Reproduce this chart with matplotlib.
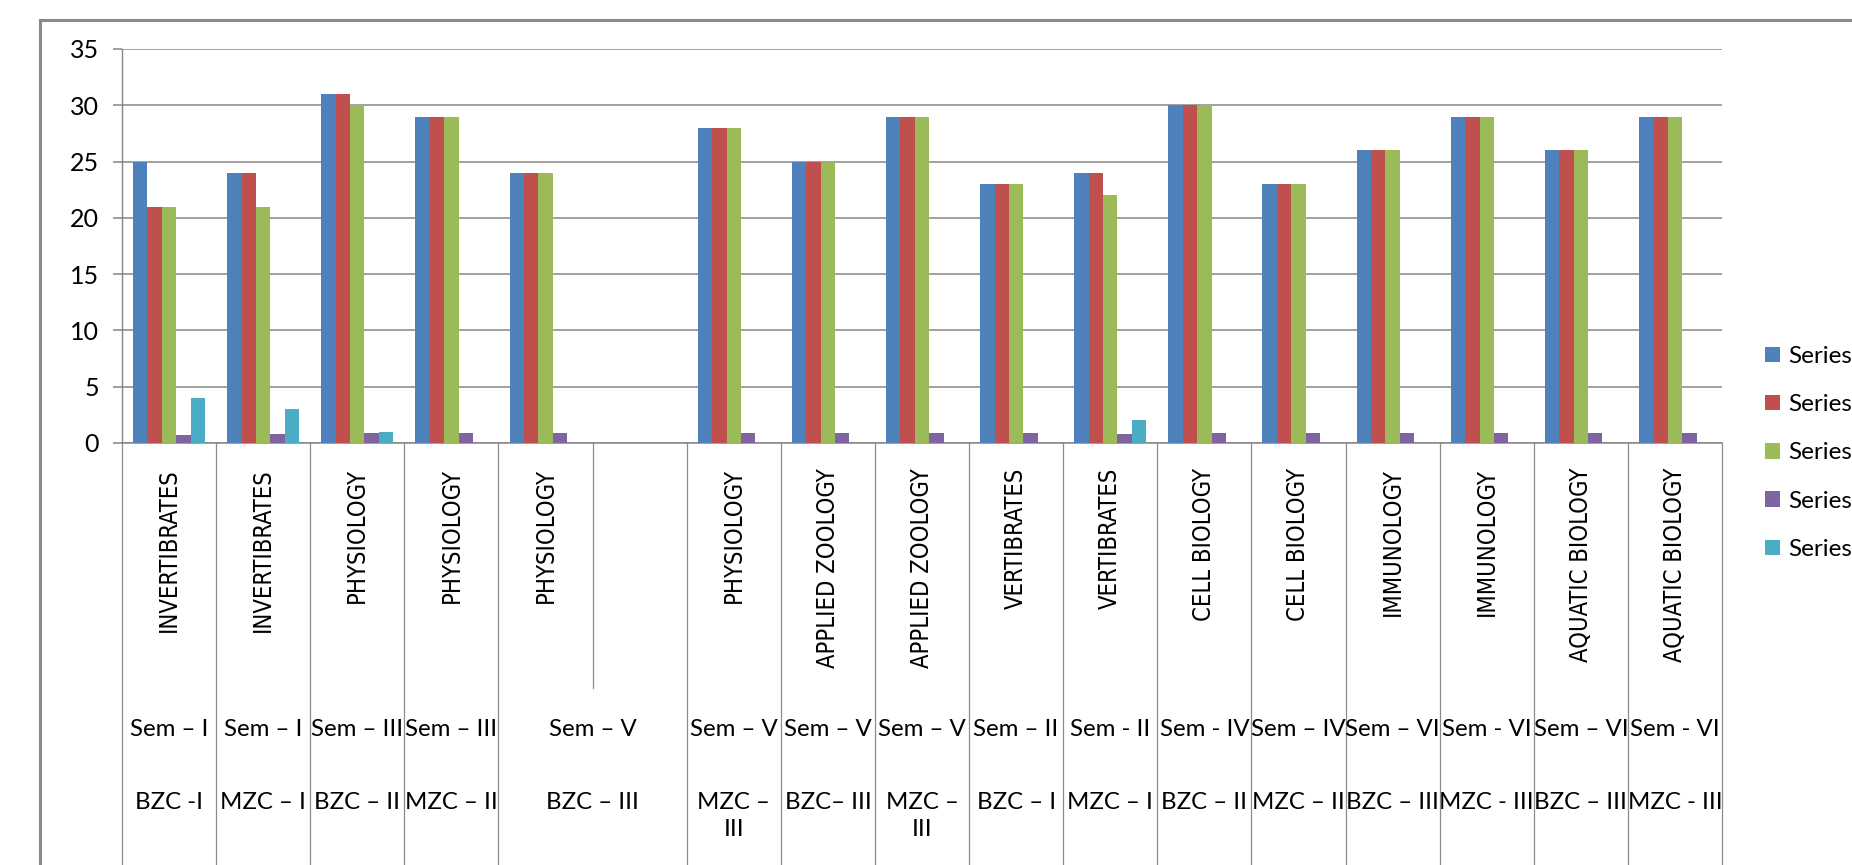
import numpy as np
import matplotlib
matplotlib.use("Agg")
import matplotlib.pyplot as plt
import matplotlib.transforms as mtransforms
from matplotlib import font_manager
from matplotlib.lines import Line2D

nan = np.nan

courses = ["INVERTIBRATES", "INVERTIBRATES", "PHYSIOLOGY", "PHYSIOLOGY", "PHYSIOLOGY", "",
           "PHYSIOLOGY", "APPLIED ZOOLOGY", "APPLIED ZOOLOGY", "VERTIBRATES", "VERTIBRATES",
           "CELL BIOLOGY", "CELL BIOLOGY", "IMMUNOLOGY", "IMMUNOLOGY",
           "AQUATIC BIOLOGY", "AQUATIC BIOLOGY"]
sems = ["Sem \u2013 I", "Sem \u2013 I", "Sem \u2013 III", "Sem \u2013 III", "Sem \u2013 V", "",
        "Sem \u2013 V", "Sem \u2013 V", "Sem \u2013 V", "Sem \u2013 II", "Sem - II",
        "Sem - IV", "Sem \u2013 IV", "Sem \u2013 VI", "Sem - VI", "Sem \u2013 VI", "Sem - VI"]
groups = ["BZC -I", "MZC \u2013 I", "BZC \u2013 II", "MZC \u2013 II", "BZC \u2013 III", "",
          "MZC \u2013\nIII", "BZC\u2013 III", "MZC \u2013\nIII", "BZC \u2013 I", "MZC \u2013 I",
          "BZC \u2013 II", "MZC \u2013 II", "BZC \u2013 III", "MZC - III", "BZC \u2013 III", "MZC - III"]
# category 4 label cells are merged with the empty category 5
merged_at = 4

series1 = [25, 24, 31, 29, 24, nan, 28, 25, 29, 23, 24, 30, 23, 26, 29, 26, 29]
series2 = [21, 24, 31, 29, 24, nan, 28, 25, 29, 23, 24, 30, 23, 26, 29, 26, 29]
series3 = [21, 21, 30, 29, 24, nan, 28, 25, 29, 23, 22, 30, 23, 26, 29, 26, 29]
series4 = [0.7, 0.8, 0.9, 0.9, 0.9, nan, 0.9, 0.9, 0.9, 0.9, 0.8, 0.9, 0.9, 0.9, 0.9, 0.9, 0.9]
series5 = [4, 3, 1, nan, nan, nan, nan, nan, nan, nan, 2, nan, nan, nan, nan, nan, nan]
series_names = ["Series1", "Series2", "Series3", "Series4", "Series5"]
colors = ["#4F81BD", "#C0504D", "#9BBB59", "#8064A2", "#4BACC6"]

# condensed face for the rotated course names, if one is installed
course_font = {"family": "Liberation Sans", "size": 15}
cond = font_manager.FontProperties(family="DejaVu Sans", stretch="condensed")
if "Condensed" in font_manager.findfont(cond, fallback_to_default=False):
    course_font = {"family": "DejaVu Sans", "stretch": "condensed", "size": 17}

W, H = 1852, 865
fig = plt.figure(figsize=(W / 100, H / 100), dpi=100)
# plot area in pixels: x 122..1722, y 49..443
ax = fig.add_axes([122 / W, (H - 443) / H, 1600 / W, 394 / H])

n = len(courses)
x = np.arange(n) + 0.5
bw = 0.153
handles = []
for k, vals in enumerate([series1, series2, series3, series4, series5]):
    b = ax.bar(x + (k - 2) * bw, vals, bw, color=colors[k], label=series_names[k], zorder=3)
    handles.append(b)

ax.set_xlim(0, n)
ax.set_ylim(0, 35)
ax.set_yticks(range(0, 36, 5))
ax.yaxis.grid(True, color="#868686", lw=1.1, zorder=0)
ax.set_xticks([])
for s in ["top", "right"]:
    ax.spines[s].set_visible(False)
ax.spines["left"].set_color("#868686")
ax.spines["bottom"].set_color("#868686")
ax.spines["left"].set_linewidth(1.0)
ax.spines["bottom"].set_linewidth(1.1)
ax.tick_params(axis="y", length=6.5, width=1.1, color="#868686", pad=10,
               labelsize=18)
for lab in ax.get_yticklabels():
    lab.set_fontfamily("Lato")

trans = mtransforms.blended_transform_factory(ax.transData, ax.transAxes)


def ya(p):
    return (443 - p) / 394


# table separators below the axis
for i in range(n + 1):
    bottom = ya(H + 5)
    if i == merged_at + 1:
        bottom = ya(688)
    ax.plot([i, i], [0, bottom], transform=trans, color="#8c8c8c", lw=0.9, clip_on=False)

for i in range(n):
    if courses[i]:
        ax.text(x[i], ya(468), courses[i], transform=trans, rotation=90, ha="center", va="top",
                fontproperties=font_manager.FontProperties(**course_font), clip_on=False)
    if sems[i]:
        cx = x[i] + (0.5 if i == merged_at else 0)
        ax.text(cx, ya(730), sems[i], transform=trans, ha="center", va="center",
                fontsize=17.3, family="Lato", clip_on=False)
        ax.text(cx, ya(792), groups[i], transform=trans, ha="center", va="top",
                fontsize=17.3, family="Lato", linespacing=1.35, clip_on=False)

leg = ax.legend(handles=handles, labels=series_names, loc="upper left",
                bbox_to_anchor=(1765 / W, (H - 346) / H), bbox_transform=fig.transFigure,
                frameon=False, prop={"family": "Lato", "size": 17.5},
                handlelength=0.6, handleheight=0.6, handletextpad=0.35,
                labelspacing=1.12, borderpad=0, borderaxespad=0)

# outer chart frame (only top and left edges lie inside the picture)
fig.add_artist(Line2D([40 / W, 1.0], [(H - 20) / H, (H - 20) / H], color="#8a8a8a", lw=2.2))
fig.add_artist(Line2D([40 / W, 40 / W], [(H - 20) / H, 0.0], color="#8a8a8a", lw=2.2))

fig.savefig("out.png", dpi=100)
